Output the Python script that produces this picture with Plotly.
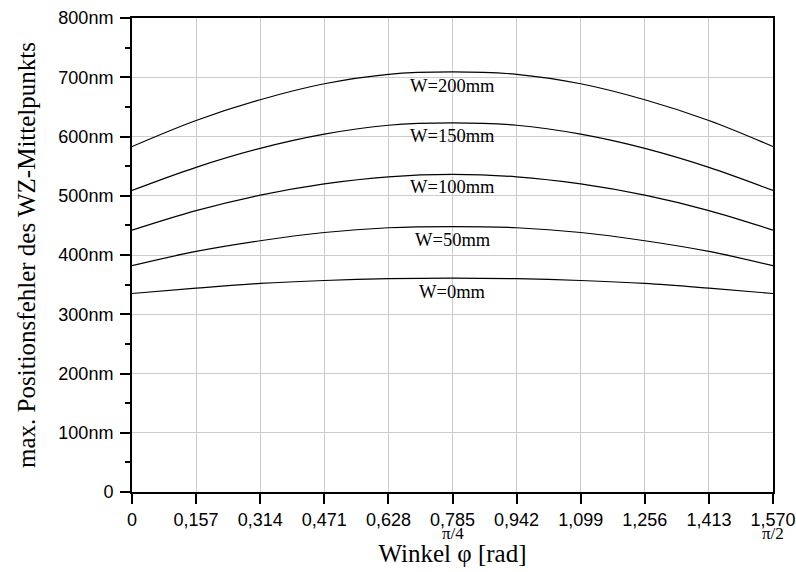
import plotly.graph_objects as go

phi = [0, 0.157, 0.314, 0.471, 0.628, 0.785, 0.942, 1.099, 1.256, 1.413, 1.570]
x_ticktext = ["0", "0,157", "0,314", "0,471", "0,628", "0,785", "0,942", "1,099", "1,256", "1,413", "1,570"]

w200 = [583, 627, 662, 689, 705, 709, 705, 689, 662, 627, 583]
w150 = [509, 548, 580, 604, 619, 623, 619, 604, 580, 548, 509]
w100 = [442, 475, 501, 520, 532, 536, 532, 520, 501, 475, 442]
w50 = [382, 406, 424, 438, 446, 448, 446, 438, 424, 406, 382]
w0 = [335, 344, 352, 357, 360, 361, 360, 357, 352, 344, 335]

series = [("W=200mm", w200, 686), ("W=150mm", w150, 601), ("W=100mm", w100, 514),
          ("W=50mm", w50, 425), ("W=0mm", w0, 338)]

y_tickvals = [0, 100, 200, 300, 400, 500, 600, 700, 800]
y_ticktext = ["0", "100nm", "200nm", "300nm", "400nm", "500nm", "600nm", "700nm", "800nm"]

fig = go.Figure()
for name, vals, ly in series:
    fig.add_trace(go.Scatter(x=phi, y=vals, mode="lines", name=name,
                             line=dict(color="black", width=1.2, shape="spline", smoothing=1.0),
                             showlegend=False, hoverinfo="skip"))
    fig.add_annotation(x=0.785, y=ly, text=name, showarrow=False,
                       font=dict(family="Liberation Serif", size=18.5, color="black"))

for xv, t in [(0.785, "π/4"), (1.570, "π/2")]:
    fig.add_annotation(x=xv, y=0, yref="paper", text=t, showarrow=False, yshift=-41,
                       yanchor="middle",
                       font=dict(family="Liberation Serif", size=17, color="black"))

fig.update_layout(
    width=796, height=572,
    margin=dict(l=131.5, r=22.7, t=18, b=80),
    paper_bgcolor="white", plot_bgcolor="white",
    font=dict(family="Liberation Sans", size=18, color="black"),
)
fig.update_xaxes(
    range=[0, 1.570], tickvals=phi, ticktext=x_ticktext, automargin=False,
    showgrid=True, gridcolor="#cccccc", gridwidth=1,
    showline=True, linecolor="black", linewidth=2, mirror=True,
    ticks="outside", ticklen=10, tickwidth=2, tickcolor="black",
    ticklabelstandoff=0,
    zeroline=False,
    title=dict(text="Winkel φ [rad]", font=dict(family="Liberation Serif", size=25), standoff=16),
)
fig.update_yaxes(
    range=[0, 800], tickvals=y_tickvals, ticktext=y_ticktext, automargin=False,
    showgrid=True, gridcolor="#cccccc", gridwidth=1,
    showline=True, linecolor="black", linewidth=2, mirror=True,
    ticks="outside", ticklen=10, tickwidth=2, tickcolor="black",
    ticklabelstandoff=3,
    minor=dict(dtick=50, ticks="outside", ticklen=5, tickwidth=2, tickcolor="black", showgrid=False),
    zeroline=False,
    title=dict(text="max. Positionsfehler des WZ-Mittelpunkts", font=dict(family="Liberation Serif", size=25), standoff=16),
)

fig.write_html("out.html", config={"displayModeBar": False},
               post_script="document.body.style.margin='0px';document.body.style.overflow='hidden';")
